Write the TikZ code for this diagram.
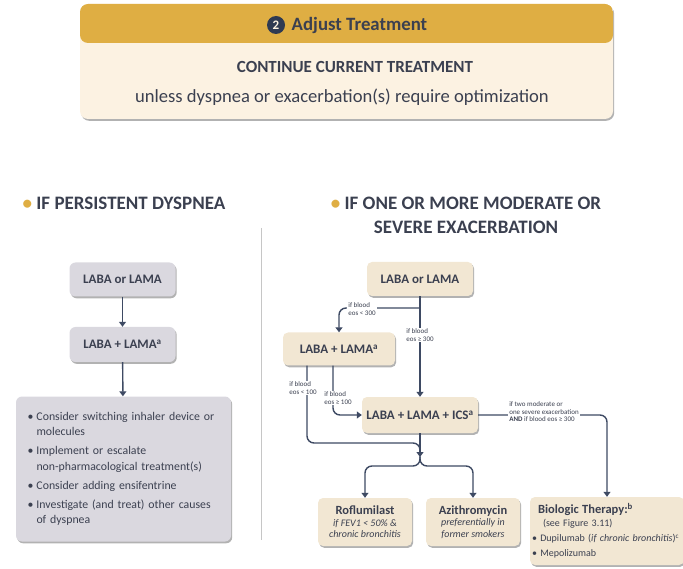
\documentclass[tikz,border=0pt]{standalone}
\usepackage{fontspec}
\setmainfont{Carlito}
\usetikzlibrary{positioning,arrows.meta,shadows}

\definecolor{gold}{HTML}{DFAE43}
\definecolor{topbody}{HTML}{FCF2E2}
\definecolor{cream}{HTML}{F2E7D3}
\definecolor{greyfill}{HTML}{DAD8DF}
\definecolor{txt}{HTML}{3B4050}
\definecolor{linec}{HTML}{3E4A63}
\definecolor{navy}{HTML}{2F3A52}

\newcommand{\fs}[2]{\fontsize{#1}{#2}\selectfont}
\newcommand{\itm}[1]{\makebox[9pt][l]{\textbullet}#1}
\newcommand{\cnt}{\hspace*{9pt}}

\tikzset{
  shad/.style={drop shadow={shadow xshift=1.2pt, shadow yshift=-1.8pt, opacity=.3, fill=black}},
  cbox/.style={fill=cream, rounded corners=5pt, shad, align=center, text=txt, inner sep=2pt},
  gbox/.style={fill=greyfill, rounded corners=6pt, shad, align=center, text=txt, inner sep=2pt},
  arr/.style={draw=linec, line width=1.4pt, rounded corners=7pt, -{Triangle[width=7pt,length=5pt]}},
  ln/.style={draw=linec, line width=1.4pt, rounded corners=7pt},
  lbl/.style={fill=white, inner sep=1pt, align=left, text=txt, font=\fs{7}{7.5}},
  head/.style={text=txt, font=\bfseries\fs{19}{24}, align=center},
}

\begin{document}
\begin{tikzpicture}[x=1pt, y=-1pt]
\useasboundingbox (0,0) rectangle (683,569);

%% Adjust treatment
\node[shad, fill=topbody, rounded corners=8pt, minimum width=533pt, minimum height=115pt,
  path picture={\fill[gold] (path picture bounding box.north west) rectangle ([yshift=-39pt]path picture bounding box.north east);}] (adj) at (346.5,61.5) {};
\node[text=txt, font=\bfseries\fs{18.8}{20}] (ttl) at (359.5,25) {Adjust Treatment};
\node[circle, fill=navy, text=topbody, inner sep=0pt, minimum size=18pt, font=\bfseries\fs{13}{13}, left=3pt of ttl] (num) {2};
\node[text=txt, font=\bfseries\fs{17}{19}] (cont) at (355,67) {CONTINUE CURRENT TREATMENT};
\node[text=txt, font=\fs{18.6}{20}] (unl) at (342,97) {unless dyspnea or exacerbation(s) require optimization};

%% Headings
\node[head] (hl) at (124,203) {\textcolor{gold}{\textbullet}~IF PERSISTENT DYSPNEA};
\node[head] (hr) at (466,215) {\textcolor{gold}{\textbullet}~IF ONE OR MORE MODERATE OR\\SEVERE EXACERBATION};
\draw[gray!45, line width=1pt] (261,228) -- (261,540);

%% Persistent dyspnea
\node[gbox, minimum width=106pt, minimum height=34pt, font=\bfseries\fs{13}{15}] (l1) at (122.5,279.5) {LABA or LAMA};
\node[gbox, minimum width=106pt, minimum height=35pt, font=\bfseries\fs{13}{15}] (l2) at (122.5,344.5) {LABA + LAMA\textsuperscript{a}};
\node[gbox, minimum width=215pt, minimum height=145pt, text width=192pt, align=left, font=\fs{11.8}{15.5}] (l3) at (123.5,469)
  {\itm{Consider switching inhaler device or}\\ \cnt molecules\\[3.5pt]
   \itm{Implement or escalate}\\ \cnt non-pharmacological treatment(s)\\[3.5pt]
   \itm{Consider adding ensifentrine}\\[3.5pt]
   \itm{Investigate (and treat) other causes}\\ \cnt of dyspnea};
\draw[arr] (l1) -- (l2);
\draw[arr] (l2) -- (l3);

%% Exacerbation
\node[cbox, minimum width=106pt, minimum height=34pt, font=\bfseries\fs{13}{15}] (r1) at (420,279) {LABA or LAMA};
\node[cbox, minimum width=112pt, minimum height=33pt, font=\bfseries\fs{13}{15}] (r2) at (339,349) {LABA + LAMA\textsuperscript{a}};
\node[cbox, minimum width=116pt, minimum height=36pt, font=\bfseries\fs{13}{15}] (r3) at (420,415) {LABA + LAMA + ICS\textsuperscript{a}};
\node[cbox, minimum width=94pt, minimum height=48pt, font=\fs{10}{11.5}] (rof) at (365,522)
  {\textbf{\fs{12.5}{13}Roflumilast}\\\textit{if FEV1 < 50\% \&}\\\textit{chronic bronchitis}};
\node[cbox, minimum width=94pt, minimum height=48pt, font=\fs{10}{11.5}] (azi) at (473,522)
  {\textbf{\fs{12.5}{13}Azithromycin}\\\textit{preferentially in}\\\textit{former smokers}};
\node[cbox, minimum width=154pt, minimum height=68pt, text width=150pt, align=left, font=\fs{10}{13}] (bio) at (607,531)
  {\hspace*{6pt}\textbf{\fs{12.5}{13}Biologic Therapy:\textsuperscript{b}}\\
   \hspace*{11pt}(see Figure 3.11)\\[2pt]
   \textbullet\ Dupilumab (\textit{if chronic bronchitis})\textsuperscript{c}\\[2pt]
   \textbullet\ Mepolizumab};

\coordinate (b1) at (420,308);
\coordinate (jn) at (420,457);
\draw[arr] (r1.south) -- (r3.north);
\draw[arr] (b1) -| (r2.north);
\draw[ln] ([xshift=-32pt]r2.south) |- (420,443) -- (jn);
\draw[arr] ([xshift=-6pt]r2.south) |- (r3.west);
\draw[arr] (r3.south) -- (jn);
\draw[arr] (jn) |- (rof.north |- 0,466) -- (rof.north);
\draw[arr] (jn) |- (azi.north |- 0,466) -- (azi.north);
\draw[arr] (r3.east) -| (bio.north);

\node[lbl] (e300a) at (362,309) {if blood\\eos < 300};
\node[lbl] (e300b) at (420,335) {if blood\\eos ≥ 300};
\node[lbl] (e100a) at (303,388) {if blood\\eos < 100};
\node[lbl] (e100b) at (338,398) {if blood\\eos ≥ 100};
\node[lbl] (ex2) at (544,412) {if two moderate or\\one severe exacerbation\\\textbf{AND} if blood eos ≥ 300};

\end{tikzpicture}
\end{document}
